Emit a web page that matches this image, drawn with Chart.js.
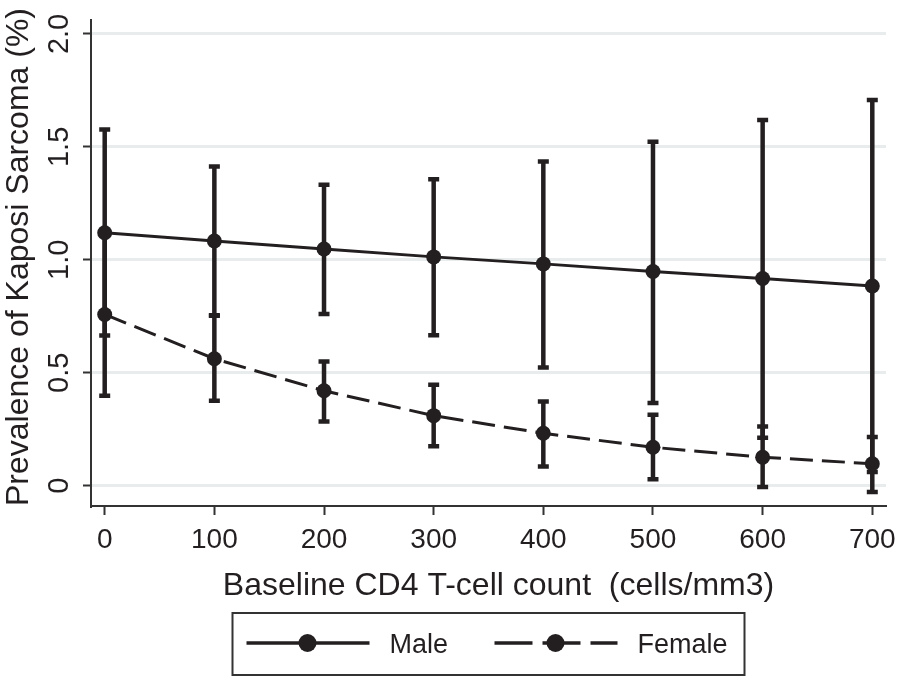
<!DOCTYPE html>
<html>
<head>
<meta charset="utf-8">
<script src="https://cdn.jsdelivr.net/npm/chart.js@4/dist/chart.umd.min.js"></script>
<style>
  html, body { margin: 0; padding: 0; background: #ffffff; }
  #wrap { width: 904px; height: 676px; }
</style>
</head>
<body>
<div id="wrap"><canvas id="c" width="904" height="676"></canvas></div>
<script>
// ---- data ----
const cd4 = [0, 100, 200, 300, 400, 500, 600, 700];
const maleVals = [1.120, 1.083, 1.048, 1.013, 0.982, 0.948, 0.917, 0.884];
const maleLow  = [0.665, 0.752, 0.760, 0.666, 0.523, 0.366, 0.212, 0.060];
const maleHigh = [1.577, 1.413, 1.332, 1.357, 1.435, 1.523, 1.619, 1.708];
const femaleVals = [0.758, 0.562, 0.420, 0.310, 0.232, 0.170, 0.126, 0.097];
const femaleLow  = [0.398, 0.376, 0.284, 0.175, 0.085, 0.028, -0.006, -0.028];
const femaleHigh = [1.118, 0.754, 0.550, 0.447, 0.373, 0.314, 0.262, 0.216];
const xTicks = [0, 100, 200, 300, 400, 500, 600, 700];
const yTicks = [0, 0.5, 1.0, 1.5, 2.0];
const seriesNames = ['Male', 'Female'];
const xTitle = 'Baseline CD4 T-cell count  (cells/mm3)';
const yTitle = 'Prevalence of Kaposi Sarcoma (%)';

// ---- styles ----
const INK = '#231f20';
const AXIS = '#333333';
const GRID = '#e8ecec';
const FONT = '"Liberation Sans", Arial, Helvetica, sans-serif';
const femaleDash = [23, 9];

function seriesDataset(label, vals, dash) {
  return {
    label: label,
    data: cd4.map((x, i) => ({ x: x, y: vals[i] })),
    borderColor: INK,
    backgroundColor: INK,
    borderWidth: 3,
    borderDash: dash,
    tension: 0,
    fill: false,
    pointRadius: 7.5,
    pointBackgroundColor: INK,
    pointBorderColor: INK,
    pointBorderWidth: 0,
    pointHoverRadius: 7.5
  };
}

function errorDatasets(lows, highs) {
  return cd4.map((x, i) => ({
    label: '_err',
    data: [{ x: x, y: lows[i] }, { x: x, y: highs[i] }],
    borderColor: INK,
    borderWidth: 4.5,
    fill: false,
    pointStyle: 'line',
    pointRadius: 5.5,
    pointHoverRadius: 5.5,
    pointBorderColor: INK,
    pointBorderWidth: 4.5,
    pointBackgroundColor: INK
  }));
}

const datasets = [
  seriesDataset(seriesNames[0], maleVals, []),
  seriesDataset(seriesNames[1], femaleVals, femaleDash),
  ...errorDatasets(maleLow, maleHigh),
  ...errorDatasets(femaleLow, femaleHigh)
];

// plugin for axis titles and framed legend
const decor = {
  id: 'decor',
  afterDraw(chart) {
    const ctx = chart.ctx;
    const ca = chart.chartArea;
    ctx.save();
    ctx.fillStyle = INK;
    // y title
    ctx.save();
    ctx.translate(19, 257);
    ctx.rotate(-Math.PI / 2);
    ctx.font = '32px ' + FONT;
    ctx.textAlign = 'center';
    ctx.textBaseline = 'middle';
    ctx.fillText(yTitle, 0, 0);
    ctx.restore();
    // x title
    ctx.font = '32px ' + FONT;
    ctx.textAlign = 'center';
    ctx.textBaseline = 'alphabetic';
    ctx.fillText(xTitle, (ca.left + ca.right) / 2 + 10, 595);

    // legend box
    const cx = (ca.left + ca.right) / 2;
    const boxL = cx - 256, boxR = cx + 256, boxT = 613, boxB = 675;
    ctx.strokeStyle = AXIS;
    ctx.lineWidth = 2;
    ctx.strokeRect(boxL, boxT, boxR - boxL, boxB - boxT);
    const ly = 643;
    const items = [
      { x0: boxL + 14, dash: [], text: seriesNames[0] },
      { x0: boxL + 262, dash: [38, 10], text: seriesNames[1] }
    ];
    ctx.font = '27px ' + FONT;
    ctx.textAlign = 'left';
    ctx.textBaseline = 'alphabetic';
    items.forEach(it => {
      ctx.strokeStyle = INK;
      ctx.lineWidth = 3.5;
      ctx.setLineDash(it.dash);
      ctx.beginPath();
      ctx.moveTo(it.x0, ly);
      ctx.lineTo(it.x0 + 123, ly);
      ctx.stroke();
      ctx.setLineDash([]);
      ctx.beginPath();
      ctx.arc(it.x0 + 61, ly, 9, 0, Math.PI * 2);
      ctx.fillStyle = INK;
      ctx.fill();
      ctx.fillText(it.text, it.x0 + 143, 653);
    });
    ctx.restore();
  }
};

new Chart(document.getElementById('c'), {
  type: 'line',
  data: { datasets: datasets },
  plugins: [decor],
  options: {
    responsive: false,
    animation: false,
    events: [],
    layout: { padding: { left: 0, right: 18, top: 19, bottom: 70 } },
    plugins: {
      legend: { display: false },
      tooltip: { enabled: false },
      title: { display: false }
    },
    scales: {
      x: {
        type: 'linear',
        min: -12.5,
        max: 712.5,
        afterBuildTicks: s => { s.ticks = xTicks.map(v => ({ value: v })); },
        afterFit: s => { s.height = 100; },
        ticks: {
          font: { family: FONT, size: 28 },
          color: INK,
          padding: 8,
          autoSkip: false,
          maxRotation: 0,
          minRotation: 0,
          callback: v => String(v)
        },
        grid: {
          drawOnChartArea: false,
          drawTicks: true,
          tickLength: 9,
          tickColor: AXIS,
          tickWidth: 2
        },
        border: { display: true, color: AXIS, width: 2 },
        title: { display: false }
      },
      y: {
        type: 'linear',
        min: -0.09,
        max: 2.06,
        afterBuildTicks: s => { s.ticks = yTicks.map(v => ({ value: v })); },
        afterFit: s => { s.width = 91; },
        ticks: {
          font: { family: FONT, size: 29 },
          color: INK,
          padding: 3,
          autoSkip: false,
          minRotation: 90,
          maxRotation: 90,
          crossAlign: 'center',
          callback: v => (v === 0 ? '0' : v.toFixed(1))
        },
        grid: {
          drawOnChartArea: true,
          color: GRID,
          lineWidth: 3,
          drawTicks: true,
          tickLength: 8,
          tickColor: AXIS,
          tickWidth: 2
        },
        border: { display: true, color: AXIS, width: 2 },
        title: { display: false }
      }
    }
  }
});
</script>
</body>
</html>
